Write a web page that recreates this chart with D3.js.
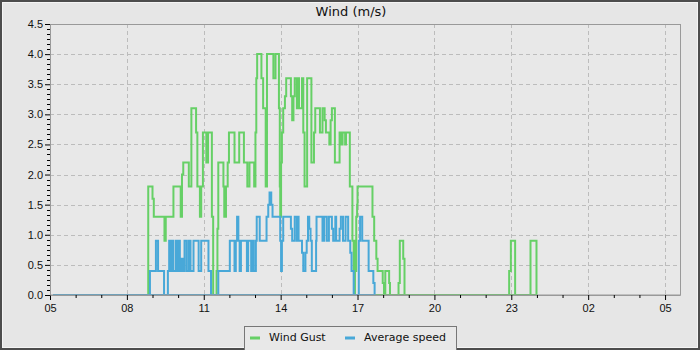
<!DOCTYPE html>
<html>
<head>
<meta charset="utf-8">
<script src="https://cdn.jsdelivr.net/npm/d3@7"></script>
<style>
  body { margin: 0; background: #e6e6e6; }
  svg { display: block; font-family: "DejaVu Sans", sans-serif; }
</style>
</head>
<body>
<div id="chart"></div>
<script>
// wind gust, change points (time, m/s)
var gustTimes = ["05:07","08:50","09:00","09:03","09:28","09:31","09:49","10:06","10:09","10:12","10:25","10:31","10:42","10:45","10:51","10:54","10:58","11:06","11:10","11:19","11:22","11:30","11:32","11:34","11:46","11:48","11:52","11:56","11:59","12:12","12:23","12:34","12:42","12:47","12:58","13:01","13:03","13:05","13:15","13:19","13:25","13:28","13:43","13:48","13:56","13:58","13:59","14:01","14:03","14:06","14:10","14:13","14:24","14:27","14:30","14:33","14:38","14:41","14:43","14:50","14:53","14:56","15:02","15:12","15:18","15:21","15:32","15:38","15:43","15:46","15:54","15:57","16:00","16:07","16:18","16:22","16:25","16:31","16:33","16:42","16:48","16:51","16:52","16:54","16:56","16:57","16:59","17:00","17:35","17:39","17:44","17:47","17:59","18:02","18:05","18:14","18:16","18:36","18:39","18:47","18:50","22:55","22:59","23:09","23:45","23:59","05:14"];
var gustValues = [0,1.8,1.6,1.3,0.9,1.3,1.8,1.3,2.0,2.2,1.8,3.1,2.7,1.8,1.3,1.8,2.7,2.2,2.7,1.3,0,0.4,1.1,2.2,1.8,1.3,1.8,2.2,2.7,2.2,2.7,2.2,1.8,2.2,1.8,2.7,3.6,4.0,3.6,3.1,1.8,4.0,3.6,4.0,3.1,1.8,1.3,2.2,2.7,3.1,3.3,3.6,3.3,2.9,3.3,3.6,3.1,3.6,3.1,3.6,2.7,1.8,3.6,2.2,2.7,3.1,2.7,3.1,2.9,2.7,2.5,2.9,3.1,2.2,2.7,2.5,2.7,2.5,2.7,1.8,0.9,0.4,0,0.9,0.4,1.3,1.5,1.8,1.3,0.9,0.6,0.4,0.2,0,0.4,0.2,0,0.2,0.9,0.6,0,0.4,0.9,0,0.9,0,0];

// average speed, change points (time, m/s)
var avgTimes = ["05:07","08:54","09:08","09:13","09:27","09:36","09:39","09:43","09:46","09:49","09:55","09:58","10:01","10:04","10:07","10:11","10:15","10:20","10:25","10:29","10:36","10:48","10:54","11:11","11:17","11:34","12:01","12:12","12:15","12:18","12:21","12:24","12:27","12:41","12:44","12:51","12:53","12:57","13:02","13:04","13:11","13:27","13:31","13:34","13:38","13:41","13:59","14:01","14:03","14:06","14:24","14:27","14:33","14:38","14:41","14:42","14:50","14:53","14:58","15:01","15:04","15:07","15:10","15:13","15:23","15:24","15:38","15:42","15:48","15:53","16:00","16:03","16:08","16:10","16:18","16:21","16:26","16:32","16:38","16:43","16:46","16:51","17:03","17:06","17:11","17:26","17:37","17:40","05:14"];
var avgValues = [0,0.4,0.9,0.4,0,0.4,0.9,0.4,0.9,0.4,0.9,0.4,0.9,0.4,0.6,0.4,0.9,0.4,0.9,0.4,0.9,0.4,0.9,0.4,0,0.4,0.9,0.4,0.9,1.3,0.9,0.4,0.9,0.4,0.9,0.4,0.9,0.4,0.9,1.3,0.9,1.3,1.5,1.7,1.5,1.3,0.9,0.4,0.9,1.3,1.1,0.9,1.3,0.9,1.3,0.9,0.7,0.4,0.7,0.9,1.3,1.1,0.9,0.4,0.9,1.3,0.9,1.3,0.9,1.3,1.1,0.9,1.3,0.9,1.1,1.3,0.9,1.3,0.9,0.7,0.4,0,0.9,1.3,0.9,0.4,0.2,0,0];

var yTicks = [0, 0.5, 1, 1.5, 2, 2.5, 3, 3.5, 4, 4.5];
var seriesNames = ["Wind Gust", "Average speed"];
var seriesColors = ["#66d066", "#48a8d8"];

var W = 700, H = 350;
var margin = {top: 24, right: 20, bottom: 55, left: 50};
var width = W - margin.left - margin.right,
    height = H - margin.top - margin.bottom;

var parseTime = d3.timeParse("%H:%M");
function toDate(s) {
  var d = parseTime(s);
  if (d.getHours() < 5) d = d3.timeDay.offset(d, 1);
  return d;
}
function makeSeries(times, values) {
  return times.map(function (t, i) { return {t: toDate(t), v: values[i]}; });
}
var gust = makeSeries(gustTimes, gustValues);
var avg = makeSeries(avgTimes, avgValues);

var start = parseTime("05:00");
var end = d3.timeMinute.offset(d3.timeDay.offset(start, 1), 35);

var x = d3.scaleTime().domain([start, end]).range([0, width]);
var y = d3.scaleLinear().domain([0, 4.5]).range([height, 0]);

var svg = d3.select("#chart").append("svg")
  .attr("width", W)
  .attr("height", H);

// frame
svg.append("rect")
  .attr("x", 0).attr("y", 0).attr("width", W).attr("height", H)
  .attr("fill", "#e6e6e6");
svg.append("rect")
  .attr("x", 1).attr("y", 1).attr("width", W - 2).attr("height", H - 2)
  .attr("fill", "none").attr("stroke", "#4d4d4d").attr("stroke-width", 2);
svg.append("rect")
  .attr("x", 2.5).attr("y", 2.5).attr("width", W - 5).attr("height", H - 5)
  .attr("fill", "none").attr("stroke", "#f5f5f5").attr("stroke-width", 1);

svg.append("text")
  .attr("x", W / 2 + 1).attr("y", 16)
  .attr("text-anchor", "middle")
  .style("font-size", "13px")
  .attr("fill", "#111")
  .text("Wind (m/s)");

var g = svg.append("g")
  .attr("transform", "translate(" + margin.left + "," + margin.top + ")");

g.append("rect")
  .attr("width", width).attr("height", height)
  .attr("fill", "#e8e8e8");

// grid
var hourTicks = x.ticks(d3.timeHour.every(1));
var majorHours = hourTicks.filter(function (d) { return (d.getHours() - 5 + 24) % 3 === 0; });

g.selectAll(".vgrid").data(majorHours).enter().append("line")
  .attr("class", "vgrid")
  .attr("x1", function (d) { return Math.round(x(d)) + 0.5; })
  .attr("x2", function (d) { return Math.round(x(d)) + 0.5; })
  .attr("y1", 0).attr("y2", height)
  .attr("stroke", "#bcbcbc").attr("stroke-dasharray", "4,3");

g.selectAll(".hgrid").data(yTicks.slice(1)).enter().append("line")
  .attr("class", "hgrid")
  .attr("x1", 0).attr("x2", width)
  .attr("y1", function (d) { return Math.round(y(d)) + 0.5; })
  .attr("y2", function (d) { return Math.round(y(d)) + 0.5; })
  .attr("stroke", "#bcbcbc").attr("stroke-dasharray", "4,3");

// lines
g.append("clipPath").attr("id", "clip")
  .append("rect").attr("width", width).attr("height", height + 2).attr("y", -1);

var line = d3.line()
  .x(function (d) { return x(d.t); })
  .y(function (d) { return y(d.v); })
  .curve(d3.curveStepAfter);

[gust, avg].forEach(function (s, i) {
  g.append("path")
    .datum(s)
    .attr("clip-path", "url(#clip)")
    .attr("fill", "none")
    .attr("stroke", seriesColors[i])
    .attr("stroke-width", 2)
    .attr("d", line);
});

// plot border
g.append("rect")
  .attr("x", 0.5).attr("y", 0.5).attr("width", width).attr("height", height - 0.5)
  .attr("fill", "none").attr("stroke", "#999");

// x axis
var xAxis = d3.axisBottom(x)
  .tickValues(hourTicks)
  .tickSize(4)
  .tickSizeOuter(0)
  .tickFormat(function (d) {
    return (d.getHours() - 5 + 24) % 3 === 0 ? d3.timeFormat("%H")(d) : "";
  });
var gx = g.append("g")
  .attr("transform", "translate(0," + height + ")")
  .call(xAxis);
gx.select(".domain").attr("stroke", "#999");
gx.selectAll(".tick line").attr("stroke", "#000")
  .attr("y2", function (d) { return (d.getHours() - 5 + 24) % 3 === 0 ? 5 : 3; });
gx.selectAll(".tick text").attr("fill", "#111").attr("dy", "0.9em").style("font-size", "11px");

// y axis with minor ticks
var minor = d3.range(0, 4.5, 0.5 / 6).filter(function (v, i) { return i % 6 !== 0; });
g.selectAll(".ymin").data(minor).enter().append("line")
  .attr("x1", -3).attr("x2", 0)
  .attr("y1", function (d) { return Math.round(y(d)) + 0.5; })
  .attr("y2", function (d) { return Math.round(y(d)) + 0.5; })
  .attr("stroke", "#000");

var yAxis = d3.axisLeft(y)
  .tickValues(yTicks)
  .tickSize(5)
  .tickSizeOuter(0)
  .tickFormat(d3.format(".1f"));
var gy = g.append("g").call(yAxis);
gy.select(".domain").attr("stroke", "#999");
gy.selectAll(".tick line").attr("stroke", "#000");
gy.selectAll(".tick text").attr("fill", "#111").attr("x", -7).style("font-size", "11px");

// legend
var lg = svg.append("g").attr("transform", "translate(244,326)");
lg.append("rect")
  .attr("x", 0.5).attr("y", 0.5).attr("width", 212).attr("height", 24)
  .attr("fill", "#e8e8e8").attr("stroke", "#777");
var lx = [6, 101];
seriesNames.forEach(function (name, i) {
  lg.append("line")
    .attr("x1", lx[i]).attr("x2", lx[i] + 10)
    .attr("y1", 12).attr("y2", 12)
    .attr("stroke", seriesColors[i]).attr("stroke-width", 3);
  lg.append("text")
    .attr("x", lx[i] + 19).attr("y", 15)
    .style("font-size", "11px")
    .attr("fill", "#111")
    .text(name);
});
</script>
</body>
</html>
